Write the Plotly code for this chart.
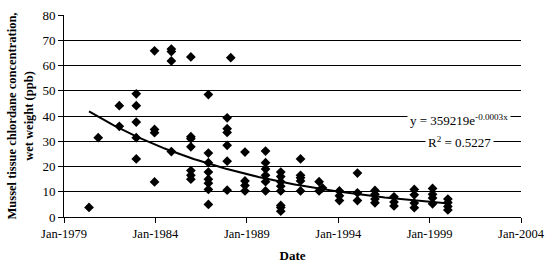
import numpy as np
import pandas as pd
import plotly.graph_objects as go

# Sampling dates and the chlordane concentrations (ppb, wet weight) measured on each
sample_dates = [
    "1980-05-15", "1980-11-15", "1982-01-10", "1982-12-15", "1983-12-15",
    "1984-11-15", "1985-12-10", "1986-11-25", "1987-12-05", "1988-02-15",
    "1988-11-25", "1990-01-10", "1990-11-10", "1991-12-10", "1992-12-15",
    "1993-02-20", "1994-01-25", "1995-01-20", "1996-01-05", "1997-01-20",
    "1998-03-01", "1999-03-01", "2000-01-01",
]
sample_values = [
    [3.8],
    [31.4],
    [44.1, 35.9],
    [48.8, 44.1, 37.6, 31.4, 23.0],
    [65.8, 34.7, 33.4, 13.9],
    [66.5, 65.5, 61.8, 25.9],
    [63.4, 31.8, 31.0, 27.8, 18.4, 16.5, 15.0],
    [48.5, 25.3, 21.5, 17.8, 15.0, 13.4, 10.9, 5.0],
    [39.3, 35.0, 33.5, 28.4, 22.1, 10.6],
    [63.1],
    [25.7, 14.3, 12.5, 10.3],
    [26.1, 21.5, 19.0, 16.5, 14.0, 10.3],
    [17.8, 16.0, 14.0, 12.2, 10.3, 4.6, 3.8, 2.3],
    [23.0, 16.5, 15.5, 14.3, 10.3],
    [14.0, 10.3],
    [11.5],
    [10.3, 8.4, 6.5],
    [17.4, 9.6, 6.5],
    [10.5, 9.0, 7.1, 5.6],
    [8.0, 5.9, 4.4],
    [10.9, 8.8, 5.5, 3.7],
    [11.3, 9.0, 7.5, 5.2],
    [7.1, 5.7, 4.2, 2.8],
]
x_tick_labels = ["Jan-1979", "Jan-1984", "Jan-1989", "Jan-1994", "Jan-1999", "Jan-2004"]
x_tick_dates = ["1979-01-01", "1984-01-01", "1989-01-01", "1994-01-01", "1999-01-01", "2004-01-01"]
y_ticks = [0, 10, 20, 30, 40, 50, 60, 70, 80]
equation_text = "y = 359219e<sup>-0.0003x</sup>"
r2_text = "R<sup>2</sup> = 0.5227"

# flatten
xs, ys = [], []
for d, vals in zip(sample_dates, sample_values):
    for v in vals:
        xs.append(d)
        ys.append(v)
xd = pd.to_datetime(xs)

# exponential trendline (least squares on ln y, like a spreadsheet trendline)
origin = pd.Timestamp("1899-12-30")
days = (xd - origin).days.values.astype(float)
k, lna = np.polyfit(days, np.log(ys), 1)
t_days = np.linspace(days.min(), days.max(), 200)
t_dates = origin + pd.to_timedelta(t_days, unit="D")
t_vals = np.exp(lna + k * t_days)

FONT = "Liberation Serif, Times New Roman, serif"

fig = go.Figure()
fig.add_trace(go.Scatter(
    x=t_dates, y=t_vals, mode="lines",
    line=dict(color="black", width=2), hoverinfo="skip", showlegend=False,
))
fig.add_trace(go.Scatter(
    x=xd, y=ys, mode="markers",
    marker=dict(symbol="diamond", size=7.5, color="black"),
    showlegend=False,
))

fig.add_annotation(
    x="2000-08-15", y=38.3, text=equation_text, showarrow=False,
    font=dict(family=FONT, size=13, color="black"),
    bgcolor="white", xanchor="center", yanchor="middle", borderpad=2,
)
fig.add_annotation(
    x="2000-08-15", y=29.8, text=r2_text, showarrow=False,
    font=dict(family=FONT, size=13, color="black"),
    bgcolor="white", xanchor="center", yanchor="middle", borderpad=2,
)

fig.update_layout(
    width=553, height=268,
    margin=dict(l=64, r=27, t=8, b=47),
    paper_bgcolor="white", plot_bgcolor="white",
    font=dict(family=FONT, size=13, color="black"),
)
fig.update_xaxes(
    type="date",
    range=["1979-01-01", "2004-01-01"],
    tickvals=x_tick_dates, ticktext=x_tick_labels,
    tickfont=dict(family=FONT, size=12.5),
    ticks="outside", ticklen=5, tickcolor="black",
    ticklabeloverflow="allow",
    showline=True, linecolor="black", linewidth=1,
    showgrid=False, zeroline=False,
    title=dict(text="<b>Date</b>", font=dict(family=FONT, size=13), standoff=10),
)
fig.update_yaxes(
    range=[0, 80], tickvals=y_ticks,
    tickfont=dict(family=FONT, size=13),
    ticks="outside", ticklen=5, tickcolor="black",
    ticklabeloverflow="allow",
    showline=True, linecolor="black", linewidth=1,
    showgrid=True, gridcolor="black", gridwidth=1, zeroline=False,
    title=dict(text="<b>Mussel tissue chlordane concentration,<br>wet weight (ppb)</b>",
               font=dict(family=FONT, size=12.5), standoff=6),
)

fig.write_html(
    "out.html",
    config={"displayModeBar": False},
    post_script="document.body.style.margin='0';document.body.style.overflow='hidden';",
)
